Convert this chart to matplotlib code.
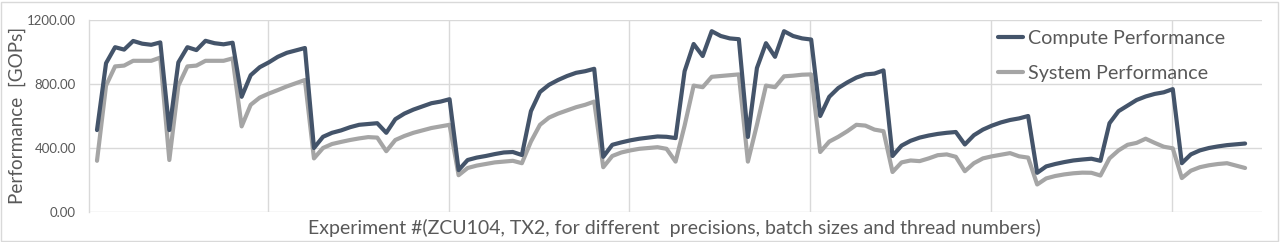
import matplotlib
matplotlib.use("Agg")
import matplotlib.pyplot as plt
from matplotlib.patches import Rectangle

# ---- data (128 experiments, 16 groups of 8) ----
compute_perf = [
    512, 930, 1030, 1015, 1069, 1052, 1045, 1060,
    512, 935, 1030, 1012, 1070, 1055, 1048, 1058,
    720, 855, 905, 935, 970, 995, 1010, 1025,
    400, 470, 495, 510, 530, 545, 550, 555,
    495, 580, 615, 640, 660, 680, 690, 705,
    262, 325, 340, 350, 362, 372, 375, 356,
    630, 750, 795, 825, 850, 870, 880, 895,
    345, 420, 435, 448, 458, 465, 472, 470,
    462, 880, 1050, 975, 1130, 1100, 1085, 1080,
    469, 900, 1055, 970, 1130, 1100, 1085, 1078,
    600, 720, 775, 810, 840, 860, 865, 885,
    350, 415, 445, 465, 478, 488, 495, 500,
    422, 480, 515, 540, 560, 575, 585, 600,
    245, 285, 300, 312, 322, 328, 333, 320,
    555, 630, 665, 700, 722, 738, 748, 768,
    305, 360, 385, 400, 410, 418, 423, 428,
]
system_perf = [
    320, 790, 910, 915, 945, 945, 945, 965,
    325, 790, 910, 915, 945, 945, 945, 960,
    535, 670, 715, 740, 762, 785, 805, 825,
    335, 400, 425, 438, 450, 460, 468, 465,
    380, 450, 475, 495, 510, 525, 535, 545,
    230, 275, 290, 300, 310, 315, 320, 305,
    440, 545, 590, 615, 635, 655, 670, 690,
    280, 350, 372, 385, 395, 400, 405, 395,
    315, 540, 790, 780, 845, 850, 855, 860,
    315, 545, 790, 780, 848, 852, 858, 860,
    375, 440, 470, 505, 545, 540, 515, 505,
    250, 310, 322, 318, 335, 355, 360, 345,
    255, 305, 335, 348, 358, 368, 348, 340,
    172, 210, 225, 235, 242, 246, 245, 228,
    335, 385, 420, 432, 458, 432, 408, 398,
    212, 258, 280, 292, 300, 305, 290, 275,
]
series_names = ["Compute Performance", "System Performance"]
y_ticks = [0, 400, 800, 1200]
y_tick_labels = ["0.00", "400.00", "800.00", "1200.00"]
x_label = "Experiment #(ZCU104, TX2, for different  precisions, batch sizes and thread numbers)"
y_label = "Performance  [GOPs]"

# ---- figure ----
W, H = 1280, 242
fig = plt.figure(figsize=(W / 100, H / 100), dpi=100)
fig.patch.set_facecolor("white")
fig.patches.append(Rectangle((1 / W, 1 / H), 1 - 3 / W, 1 - 3 / H, transform=fig.transFigure,
                             fill=False, edgecolor="#d9d9d9", linewidth=1.0))

left, right, top, bottom = 89, 1262, 20, 212
ax = fig.add_axes([left / W, 1 - bottom / H, (right - left) / W, (bottom - top) / H])

text_color = "#595959"
grid_color = "#d9d9d9"
font = ["Lato", "DejaVu Sans"]

x = list(range(len(compute_perf)))
ax.plot(x, compute_perf, color="#44546A", lw=3.0, solid_joinstyle="round",
        solid_capstyle="round", label=series_names[0], zorder=3)
ax.plot(x, system_perf, color="#A5A5A5", lw=3.0, solid_joinstyle="round",
        solid_capstyle="round", label=series_names[1], zorder=2)

ax.set_xlim(-0.885, 128.87)
ax.set_ylim(0, 1200)
ax.set_yticks(y_ticks)
ax.set_yticklabels(y_tick_labels, color=text_color, fontsize=9.5, family=font)
ax.set_xticks([18.9 + 20 * k for k in range(6)])
ax.set_xticklabels([])
ax.tick_params(axis="both", length=0)
ax.tick_params(axis="y", pad=9.4)
ax.grid(True, color=grid_color, lw=1.0)
ax.set_axisbelow(True)
for s in ["top", "right", "bottom"]:
    ax.spines[s].set_visible(False)
ax.spines["left"].set_color(grid_color)
ax.spines["left"].set_linewidth(1.0)

fig.text(674 / W, 1 - 228 / H, x_label, ha="center", va="center",
         color=text_color, fontsize=14, family=font)
fig.text(17 / W, 1 - 115 / H, y_label, ha="center", va="center", rotation=90,
         color=text_color, fontsize=13.6, family=font)

leg = ax.legend(loc="upper left", bbox_to_anchor=(998 / W, 1 - 30 / H),
                bbox_transform=fig.transFigure, frameon=False, borderpad=0,
                borderaxespad=0, handlelength=1.25, handletextpad=0.25,
                labelspacing=0.9, prop={"family": font, "size": 14.2})
for t in leg.get_texts():
    t.set_color(text_color)

fig.savefig("out.png", dpi=100, facecolor="white")
